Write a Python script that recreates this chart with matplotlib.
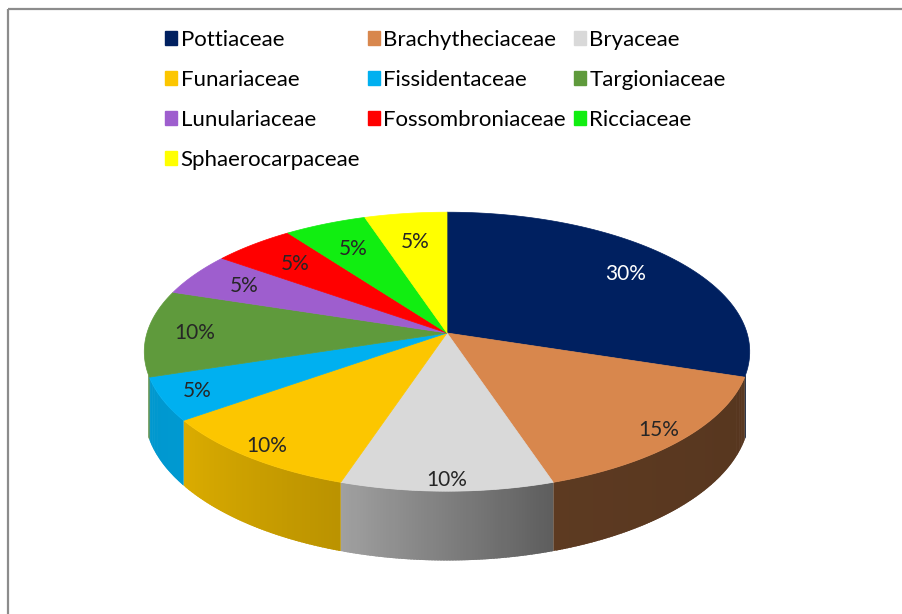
import numpy as np
import matplotlib.pyplot as plt
from matplotlib.patches import Patch
from matplotlib.collections import PolyCollection
from matplotlib.colors import to_rgb

# data
families = ['Pottiaceae', 'Brachytheciaceae', 'Bryaceae', 'Funariaceae',
            'Fissidentaceae', 'Targioniaceae', 'Lunulariaceae',
            'Fossombroniaceae', 'Ricciaceae', 'Sphaerocarpaceae']
shares = [30, 15, 10, 10, 5, 10, 5, 5, 5, 5]
colors = ['#002060', '#D8874D', '#D9D9D9', '#FCC600', '#00B0F0',
          '#5F9A3C', '#9E5ECE', '#FF0000', '#11EE11', '#FFFF00']
label_colors = ['white'] + ['#262626'] * 9

plt.rcParams['font.family'] = ['Lato', 'DejaVu Sans']

fig = plt.figure(figsize=(9.03, 6.14), dpi=100)
ax = fig.add_axes([0, 0, 1, 1])
ax.set_xlim(0, 903)
ax.set_ylim(614, 0)
ax.axis('off')

# pie geometry (pixels) with a little perspective
cx, cy, rx, ry = 447, 333, 300, 137
persp = 0.134
depth = 60


def project(t, r=1.0):
    t = np.radians(t)
    u, v = r * np.cos(t), r * np.sin(t)
    p = 1.0 / (1.0 + persp * v)
    return cx + rx * u * p, cy - ry * v * p, p


vals = np.array(shares, dtype=float)
cum = np.concatenate([[0], np.cumsum(vals)]) / vals.sum()
theta1 = 90 - 360 * cum[:-1]
theta2 = 90 - 360 * cum[1:]

# side walls on the near part of the rim, shaded darker toward the right
side_lo, side_hi = -163, -17
shade_t = [-180, -144, -108, -72, -18, 0]
shade_f = [0.85, 0.87, 0.74, 0.43, 0.40, 0.38]
quads, qcols = [], []
for i in range(len(vals)):
    lo, hi = max(theta2[i], side_lo), min(theta1[i], side_hi)
    if hi <= lo:
        continue
    ts = np.linspace(lo, hi, int((hi - lo) * 2) + 2)
    base = np.array(to_rgb(colors[i]))
    for a, b in zip(ts[:-1], ts[1:]):
        b2 = min(b + 0.4, hi)
        xa, ya, pa = project(a)
        xb, yb, pb = project(b2)
        quads.append([(xa, ya), (xb, yb), (xb, yb + depth * pb), (xa, ya + depth * pa)])
        f = np.interp((a + b) / 2, shade_t, shade_f)
        qcols.append(np.clip(base * f, 0, 1))
ax.add_collection(PolyCollection(quads, facecolors=qcols, edgecolors='none', linewidths=0))

# top faces
for i in range(len(vals)):
    ts = np.linspace(theta1[i], theta2[i], 80)
    xs, ys, _ = project(ts)
    ax.fill(np.r_[cx, xs], np.r_[cy, ys], color=colors[i], lw=0.5, ec=colors[i])

# percentage labels, pushed outward a bit on the near side
for i in range(len(vals)):
    mid = (theta1[i] + theta2[i]) / 2
    lr = 0.84 - 0.1 * np.sin(np.radians(mid))
    lx, ly, _ = project(mid, lr)
    ax.text(lx, ly, f'{shares[i]:.0f}%', ha='center', va='center',
            fontsize=15, color=label_colors[i])

# chart border
ax.plot([8.5, 903], [8.5, 8.5], color='#8c8c8c', lw=1.6, solid_capstyle='butt')
ax.plot([8.5, 8.5], [8.5, 614], color='#8c8c8c', lw=1.6, solid_capstyle='butt')

# legend, 3 columns row by row
order = [0, 3, 6, 9, 1, 4, 7, 2, 5, 8]
handles = [Patch(color=colors[k]) for k in order]
fig.legend(handles, [families[k] for k in order], ncol=3, loc='upper left',
           bbox_to_anchor=(165 / 903, 1 - 30 / 614), frameon=False,
           fontsize=16, handlelength=0.55, handleheight=0.55,
           handletextpad=0.15, columnspacing=0.35, labelspacing=0.9,
           borderpad=0, borderaxespad=0)

fig.savefig('out.png', dpi=100)
